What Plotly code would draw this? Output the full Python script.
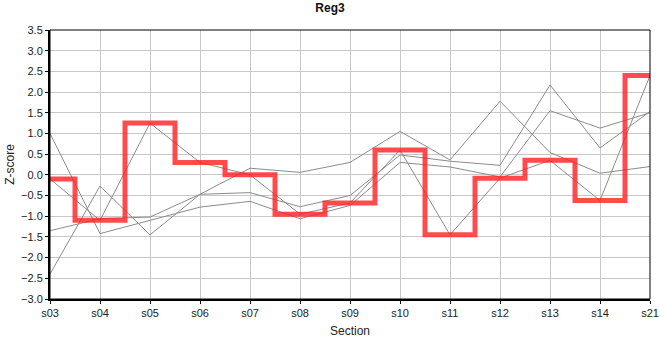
import plotly.graph_objects as go

sections = ["s03", "s04", "s05", "s06", "s07", "s08", "s09", "s10", "s11", "s12", "s13", "s14", "s21"]

highlight = [-0.1, -1.1, 1.25, 0.3, 0.0, -0.95, -0.68, 0.6, -1.45, -0.08, 0.35, -0.62, 2.4]
gray_a = [-2.4, -0.27, -1.45, -0.47, 0.16, 0.06, 0.3, 1.05, 0.36, 1.78, 0.54, 0.04, 0.2]
gray_b = [1.0, -1.42, -1.1, -0.78, -0.64, -1.06, -0.74, 0.3, 0.19, -0.05, 1.55, 1.13, 1.5]
gray_c = [-1.35, -1.06, -1.02, -0.47, -0.43, -0.77, -0.5, 0.48, 0.33, 0.23, 2.17, 0.65, 1.53]
gray_series = [gray_a, gray_b, gray_c, highlight]

y_ticks = [-3.0, -2.5, -2.0, -1.5, -1.0, -0.5, 0.0, 0.5, 1.0, 1.5, 2.0, 2.5, 3.0, 3.5]

fig = go.Figure()
for s in gray_series:
    fig.add_trace(go.Scatter(x=sections, y=s, mode="lines",
                             line=dict(color="#8c8c8c", width=1),
                             hoverinfo="skip", showlegend=False))
fig.add_trace(go.Scatter(x=sections, y=highlight, mode="lines",
                         line=dict(color="rgba(255,30,30,0.8)", width=5, shape="hvh"),
                         showlegend=False))

fig.update_layout(
    width=660, height=360,
    margin=dict(l=50, r=10, t=30, b=61),
    paper_bgcolor="white", plot_bgcolor="white",
    font=dict(family="Liberation Sans, Arial, sans-serif", size=11, color="#222"),
    title=dict(text="<b>Reg3</b>", x=0.5, xanchor="center", y=0.978, yanchor="middle",
               font=dict(size=12, color="#111")),
    xaxis=dict(type="category", range=[0, 12], showgrid=True, gridcolor="#c8c8c8", gridwidth=1,
               showline=True, linecolor="black", linewidth=2, ticks="outside", ticklen=3,
               tickcolor="black", zeroline=False, automargin=False,
               title=dict(text="Section", font=dict(size=12), standoff=8)),
    yaxis=dict(range=[-3.0, 3.5], tickvals=y_ticks, tickformat=".1f", showgrid=True,
               gridcolor="#c8c8c8", gridwidth=1, zeroline=False, automargin=False,
               showline=True, linecolor="black", linewidth=2, ticks="outside", ticklen=3,
               tickcolor="black",
               title=dict(text="Z-score", font=dict(size=12), standoff=4)),
    shapes=[dict(type="rect", xref="paper", yref="paper", x0=0, y0=0, x1=1, y1=1,
                 line=dict(color="black", width=1), layer="above")],
)

fig.write_html("out.html", config={"displayModeBar": False},
               post_script="document.body.style.margin='0';")
